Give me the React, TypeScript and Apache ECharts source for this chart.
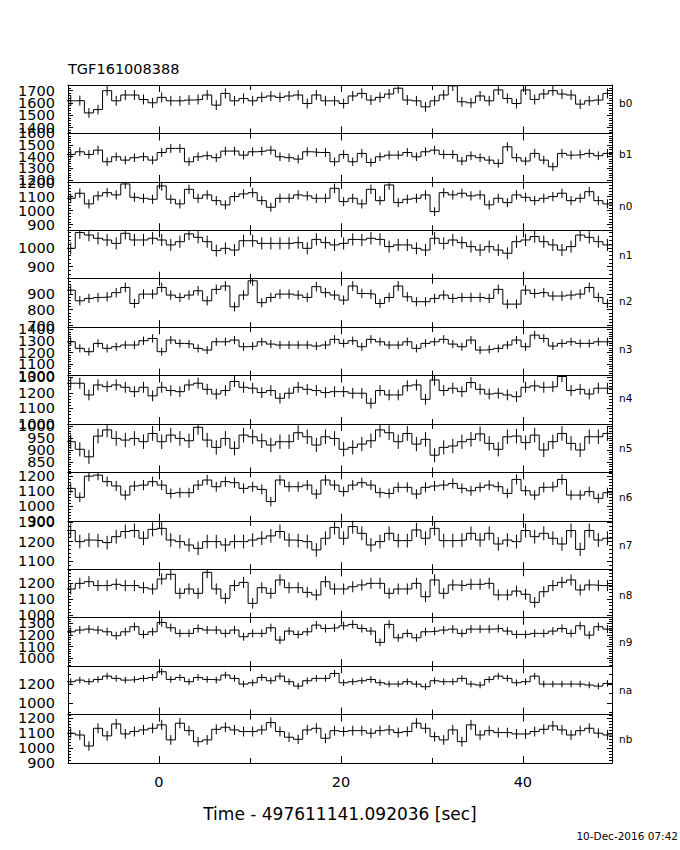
import React, { useEffect, useRef } from "react";
import * as echarts from "echarts";

const FONT = "DejaVu Sans";

const titleText = "TGF161008388";
const xAxisTitle = "Time - 497611141.092036 [sec]";
const dateText = "10-Dec-2016 07:42";

const detectorNames = ["b0", "b1", "n0", "n1", "n2", "n3", "n4", "n5", "n6", "n7", "n8", "n9", "na", "nb"];

// time bins (1 s wide), first edge before the axis start
const binStart = -10.2;
const binWidth = 1.0;
const xMin = -10;
const xMax = 49.8;
const xMajorTicks = [0, 20, 40];
const xMinorTicks = [10, 30];

// per-panel y ranges and tick steps
const yMins = [1354, 1183, 860, 837, 690, 1000, 1000, 805, 900, 1060, 985, 930, 880, 900];
const yMaxs = [1746, 1600, 1205, 1092, 995, 1420, 1310, 1010, 1225, 1305, 1285, 1350, 1390, 1225];
const yMajorSteps = [100, 100, 100, 100, 100, 100, 100, 50, 100, 100, 100, 100, 200, 100];
const yMinorSteps = [20, 20, 20, 20, 20, 20, 20, 10, 20, 20, 20, 20, 100, 20];
const labelYOffsets = [-6, -4, 0, 0, -2, -2, -2, 0, 0, 0, 1, 0, 0, 0];

// counts per 1 s bin
const b0Counts = [1618, 1620, 1520, 1547, 1700, 1618, 1665, 1665, 1629, 1602, 1646, 1618, 1618, 1624, 1629, 1665, 1583, 1678, 1618, 1637, 1618, 1646, 1657, 1646, 1657, 1665, 1596, 1665, 1618, 1618, 1596, 1657, 1678, 1624, 1646, 1673, 1720, 1624, 1618, 1569, 1618, 1665, 1739, 1610, 1602, 1657, 1618, 1706, 1637, 1596, 1706, 1629, 1673, 1700, 1673, 1665, 1591, 1618, 1624, 1678];
const b1Counts = [1419, 1442, 1419, 1456, 1356, 1399, 1370, 1391, 1399, 1370, 1436, 1471, 1471, 1356, 1399, 1408, 1391, 1448, 1448, 1413, 1442, 1448, 1456, 1399, 1391, 1379, 1442, 1436, 1436, 1356, 1419, 1356, 1428, 1350, 1399, 1413, 1413, 1436, 1399, 1442, 1456, 1419, 1419, 1362, 1408, 1391, 1370, 1342, 1485, 1391, 1362, 1428, 1370, 1313, 1428, 1413, 1419, 1428, 1408, 1428];
const n0Counts = [1088, 1124, 1048, 1105, 1128, 1112, 1190, 1095, 1088, 1081, 1176, 1081, 1048, 1152, 1088, 1112, 1071, 1041, 1100, 1119, 1128, 1071, 1024, 1088, 1088, 1112, 1105, 1088, 1088, 1159, 1064, 1088, 1048, 1152, 1071, 1183, 1057, 1081, 1088, 1112, 993, 1128, 1112, 1124, 1105, 1112, 1041, 1088, 1057, 1112, 1095, 1071, 1088, 1100, 1124, 1071, 1088, 1135, 1071, 1048];
const n1Counts = [997, 1080, 1067, 1050, 1041, 1023, 1076, 1041, 1041, 1050, 1041, 1015, 1032, 1073, 1055, 1032, 985, 997, 988, 1037, 1037, 1023, 1023, 1023, 1023, 1027, 997, 1044, 1027, 1015, 1023, 1044, 1041, 1050, 1044, 1006, 1015, 1015, 997, 988, 1050, 1023, 1041, 1027, 1006, 988, 1006, 988, 971, 1032, 1041, 1059, 1032, 1015, 988, 1006, 1067, 1055, 1032, 1015];
const n2Counts = [923, 856, 871, 877, 881, 907, 940, 839, 898, 898, 940, 892, 877, 892, 919, 856, 928, 949, 818, 892, 982, 844, 877, 898, 898, 892, 877, 945, 907, 892, 860, 949, 902, 898, 839, 877, 949, 881, 850, 850, 871, 892, 871, 877, 877, 877, 871, 928, 835, 835, 923, 902, 907, 886, 886, 892, 898, 940, 877, 839];
const n3Counts = [1293, 1236, 1207, 1279, 1236, 1250, 1265, 1265, 1302, 1322, 1207, 1308, 1279, 1273, 1236, 1221, 1293, 1293, 1308, 1250, 1256, 1293, 1273, 1265, 1265, 1265, 1265, 1256, 1265, 1314, 1279, 1302, 1250, 1314, 1293, 1265, 1265, 1293, 1236, 1279, 1293, 1314, 1273, 1250, 1308, 1221, 1227, 1236, 1265, 1308, 1250, 1351, 1322, 1256, 1279, 1293, 1279, 1279, 1293, 1293];
const n4Counts = [1261, 1261, 1186, 1250, 1239, 1250, 1235, 1207, 1235, 1180, 1235, 1214, 1207, 1250, 1261, 1222, 1192, 1214, 1272, 1235, 1229, 1201, 1214, 1165, 1197, 1235, 1222, 1214, 1201, 1207, 1207, 1197, 1197, 1133, 1214, 1186, 1186, 1244, 1250, 1158, 1282, 1214, 1229, 1207, 1265, 1222, 1192, 1197, 1186, 1175, 1235, 1244, 1235, 1239, 1304, 1214, 1222, 1192, 1229, 1229];
const n5Counts = [935, 903, 871, 959, 985, 949, 942, 949, 935, 970, 935, 963, 949, 939, 996, 942, 911, 949, 907, 963, 956, 939, 921, 935, 935, 973, 956, 921, 956, 949, 903, 911, 925, 939, 985, 973, 935, 970, 925, 945, 878, 911, 917, 935, 945, 968, 928, 903, 956, 959, 931, 963, 900, 935, 970, 928, 900, 956, 956, 970];
const n6Counts = [1118, 1058, 1200, 1207, 1163, 1134, 1073, 1134, 1140, 1163, 1140, 1084, 1089, 1089, 1140, 1174, 1129, 1163, 1156, 1118, 1129, 1111, 1029, 1174, 1129, 1129, 1140, 1080, 1174, 1140, 1096, 1140, 1156, 1140, 1089, 1084, 1125, 1125, 1080, 1125, 1134, 1140, 1151, 1118, 1102, 1125, 1140, 1129, 1084, 1178, 1102, 1073, 1125, 1129, 1178, 1073, 1073, 1096, 1051, 1089];
const n7Counts = [1256, 1200, 1208, 1205, 1195, 1225, 1251, 1256, 1217, 1262, 1267, 1208, 1200, 1183, 1166, 1200, 1200, 1183, 1200, 1200, 1208, 1217, 1229, 1251, 1208, 1205, 1200, 1158, 1217, 1272, 1217, 1276, 1242, 1183, 1200, 1242, 1205, 1205, 1259, 1217, 1267, 1205, 1205, 1208, 1242, 1208, 1242, 1188, 1208, 1200, 1256, 1225, 1242, 1217, 1188, 1256, 1161, 1256, 1208, 1217];
const n8Counts = [1163, 1198, 1208, 1184, 1184, 1192, 1184, 1184, 1171, 1163, 1225, 1254, 1136, 1163, 1136, 1266, 1163, 1105, 1184, 1204, 1074, 1171, 1136, 1219, 1171, 1171, 1142, 1126, 1208, 1163, 1163, 1177, 1188, 1198, 1198, 1136, 1163, 1163, 1198, 1115, 1219, 1136, 1188, 1184, 1192, 1192, 1198, 1126, 1126, 1150, 1130, 1080, 1146, 1184, 1204, 1219, 1157, 1188, 1184, 1184];
const n9Counts = [1228, 1243, 1251, 1243, 1228, 1194, 1228, 1272, 1205, 1228, 1309, 1263, 1214, 1214, 1257, 1243, 1243, 1214, 1243, 1185, 1214, 1214, 1263, 1156, 1234, 1205, 1228, 1286, 1257, 1263, 1280, 1292, 1257, 1234, 1136, 1292, 1176, 1214, 1176, 1228, 1234, 1243, 1251, 1214, 1251, 1251, 1251, 1257, 1234, 1205, 1205, 1214, 1214, 1234, 1257, 1214, 1280, 1199, 1272, 1251];
const naCounts = [1226, 1243, 1226, 1250, 1285, 1261, 1243, 1250, 1261, 1271, 1331, 1250, 1271, 1226, 1271, 1250, 1243, 1296, 1261, 1201, 1215, 1271, 1236, 1285, 1226, 1180, 1236, 1261, 1261, 1313, 1215, 1226, 1236, 1250, 1215, 1201, 1201, 1226, 1201, 1173, 1236, 1226, 1226, 1261, 1201, 1191, 1250, 1285, 1261, 1215, 1226, 1285, 1201, 1201, 1201, 1201, 1201, 1191, 1180, 1208];
const nbCounts = [1100, 1088, 1014, 1133, 1082, 1162, 1095, 1111, 1122, 1133, 1156, 1055, 1167, 1117, 1043, 1055, 1126, 1140, 1122, 1111, 1111, 1122, 1171, 1111, 1073, 1059, 1122, 1133, 1066, 1117, 1111, 1117, 1117, 1100, 1117, 1122, 1104, 1111, 1167, 1133, 1077, 1055, 1122, 1043, 1156, 1088, 1117, 1104, 1104, 1095, 1095, 1111, 1126, 1149, 1122, 1088, 1117, 1133, 1100, 1088];

const allCounts = [b0Counts, b1Counts, n0Counts, n1Counts, n2Counts, n3Counts, n4Counts, n5Counts, n6Counts, n7Counts, n8Counts, n9Counts, naCounts, nbCounts];

function tickValues(min: number, max: number, step: number): number[] {
  const out: number[] = [];
  for (let v = Math.ceil(min / step - 1e-9) * step; v <= max + 1e-9; v += step) {
    out.push(Math.round(v * 1000) / 1000);
  }
  return out;
}

const plainNumber = (v: number) => String(Math.round(v));
const AXES_PER_Y = 5;

function buildOption() {
  const n = detectorNames.length;
  const plotLeft = 68;
  const plotWidth = 544;
  const plotTop = 85;
  const plotBottom = 763;
  const panelH = (plotBottom - plotTop) / n;
  const black = "#000";

  const grids: any[] = [];
  const xAxes: any[] = [];
  const yAxes: any[] = [];
  const series: any[] = [];
  const graphics: any[] = [];

  const yLabelStyle = {
    show: true,
    interval: 0,
    formatter: plainNumber,
    margin: 13,
    fontSize: 14.5,
    color: black,
    fontFamily: FONT,
    showMinLabel: true,
    showMaxLabel: true,
    hideOverlap: false,
  };

  for (let i = 0; i < n; i++) {
    const top = plotTop + i * panelH;
    grids.push({ left: plotLeft, width: plotWidth, top, height: panelH, containLabel: false, outerBoundsMode: "none" });

    const isLast = i === n - 1;
    const xBase = {
      type: "value",
      gridIndex: i,
      min: xMin,
      max: xMax,
      splitLine: { show: false },
      axisLabel: { show: false },
      axisLine: { show: true, onZero: false, lineStyle: { color: black, width: 1 } },
      axisTick: { show: true, inside: true, length: 7, interval: 0, customValues: xMajorTicks, lineStyle: { color: black, width: 1 } },
    };
    xAxes.push({
      ...xBase,
      position: "bottom",
      axisLabel: isLast
        ? { show: true, interval: 0, customValues: xMajorTicks, formatter: plainNumber, margin: 11, fontSize: 14.5, color: black, fontFamily: FONT, showMinLabel: true, showMaxLabel: true, hideOverlap: false }
        : { show: false },
      name: isLast ? xAxisTitle : "",
      nameLocation: "middle",
      nameGap: 42,
      nameTextStyle: { fontSize: 17, color: black, fontFamily: FONT },
    });
    xAxes.push({ ...xBase, position: "top" });
    xAxes.push({
      ...xBase,
      position: "bottom",
      axisLine: { show: false, onZero: false },
      axisTick: { show: true, inside: true, length: 5, interval: 0, customValues: xMinorTicks, lineStyle: { color: black, width: 1 } },
    });
    xAxes.push({
      ...xBase,
      position: "top",
      axisLine: { show: false, onZero: false },
      axisTick: { show: true, inside: true, length: 5, interval: 0, customValues: xMinorTicks, lineStyle: { color: black, width: 1 } },
    });

    const yMin = yMins[i];
    const yMax = yMaxs[i];
    const majors = tickValues(yMin, yMax, yMajorSteps[i]);
    const minors = tickValues(yMin, yMax, yMinorSteps[i]).filter((v) => majors.indexOf(v) < 0);
    // split labels over two axes so that close labels are not dropped
    const labelsA = majors.filter((_, k) => k % 2 === 0);
    const labelsB = majors.filter((_, k) => k % 2 === 1);
    const yBase = {
      type: "value",
      gridIndex: i,
      min: yMin,
      max: yMax,
      splitLine: { show: false },
      axisLabel: { show: false },
      axisLine: { show: true, onZero: false, lineStyle: { color: black, width: 1 } },
      axisTick: { show: true, inside: true, length: 5, interval: 0, customValues: majors, lineStyle: { color: black, width: 1 } },
    };
    yAxes.push({
      ...yBase,
      position: "left",
      axisLabel: { ...yLabelStyle, customValues: labelsA },
    });
    yAxes.push({ ...yBase, position: "right" });
    yAxes.push({
      ...yBase,
      position: "left",
      axisLine: { show: false, onZero: false },
      axisTick: { show: true, inside: true, length: 3, interval: 0, customValues: minors, lineStyle: { color: black, width: 1 } },
    });
    yAxes.push({
      ...yBase,
      position: "right",
      axisLine: { show: false, onZero: false },
      axisTick: { show: true, inside: true, length: 3, interval: 0, customValues: minors, lineStyle: { color: black, width: 1 } },
    });
    yAxes.push({
      ...yBase,
      position: "left",
      axisLine: { show: false, onZero: false },
      axisTick: { show: false },
      axisLabel: labelsB.length ? { ...yLabelStyle, customValues: labelsB } : { show: false },
    });

    const counts = allCounts[i];
    const stepData: number[][] = counts.map((c, k) => [binStart + k * binWidth, c]);
    stepData.push([binStart + counts.length * binWidth, counts[counts.length - 1]]);
    const errData = counts.map((c, k) => [binStart + (k + 0.5) * binWidth, c, Math.sqrt(c)]);

    series.push({
      type: "line",
      xAxisIndex: 4 * i,
      yAxisIndex: AXES_PER_Y * i,
      data: stepData,
      step: "end",
      symbol: "none",
      showSymbol: false,
      clip: true,
      silent: true,
      lineStyle: { color: black, width: 1 },
    });
    series.push({
      type: "custom",
      xAxisIndex: 4 * i,
      yAxisIndex: AXES_PER_Y * i,
      data: errData,
      clip: true,
      silent: true,
      renderItem: (params: any, api: any) => {
        const x = api.value(0);
        const v = api.value(1);
        const e = api.value(2);
        const p1 = api.coord([x, v + e]);
        const p2 = api.coord([x, v - e]);
        return {
          type: "line",
          shape: { x1: p1[0], y1: p1[1], x2: p2[0], y2: p2[1] },
          style: { stroke: black, lineWidth: 1 },
        };
      },
    });

    graphics.push({
      type: "text",
      x: 619,
      y: top + panelH / 2 + labelYOffsets[i],
      style: {
        text: detectorNames[i],
        fill: black,
        font: `10.5px "${FONT}"`,
        textAlign: "left",
        textVerticalAlign: "middle",
        align: "left",
        verticalAlign: "middle",
      },
    });
  }

  graphics.push({
    type: "text",
    x: 68,
    y: 69,
    style: {
      text: titleText,
      fill: black,
      font: `14.5px "${FONT}"`,
      textAlign: "left",
      textVerticalAlign: "middle",
      align: "left",
      verticalAlign: "middle",
    },
  });
  graphics.push({
    type: "text",
    x: 678,
    y: 836,
    style: {
      text: dateText,
      fill: black,
      font: `10.5px "${FONT}"`,
      textAlign: "right",
      textVerticalAlign: "middle",
      align: "right",
      verticalAlign: "middle",
    },
  });

  return {
    animation: false,
    backgroundColor: "#fff",
    textStyle: { fontFamily: FONT },
    grid: grids,
    xAxis: xAxes,
    yAxis: yAxes,
    series,
    graphic: graphics,
  };
}

export default function App() {
  const ref = useRef<HTMLDivElement>(null);
  useEffect(() => {
    if (!ref.current) return;
    const chart = echarts.init(ref.current, null, { renderer: "svg" });
    chart.setOption(buildOption() as any);
    return () => chart.dispose();
  }, []);
  return (
    <div
      ref={ref}
      style={{ position: "absolute", left: 0, top: 0, width: 680, height: 850, background: "#fff" }}
    />
  );
}
